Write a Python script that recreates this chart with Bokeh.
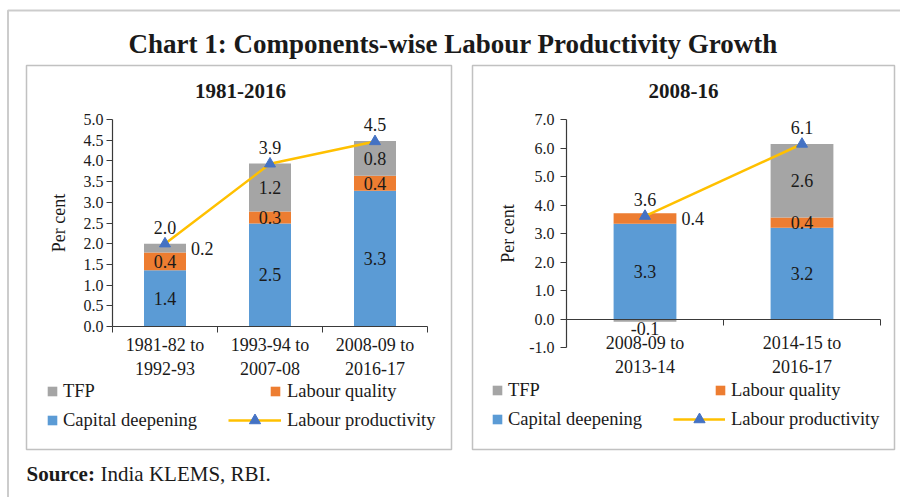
from bokeh.plotting import figure
from bokeh.models import (ColumnDataSource, Range1d, FixedTicker, Label, Legend,
                          LegendItem, LinearAxis, BoxAnnotation, NumeralTickFormatter)
from bokeh.core.properties import value
from bokeh.embed import file_html
from bokeh.resources import INLINE

# ---------------- data ----------------
chart_title = "Chart 1:  Components-wise Labour Productivity Growth"
source_bold = "Source:"
source_text = "India KLEMS, RBI."
y_axis_label = "Per cent"
series_names = ["TFP", "Labour quality", "Capital deepening", "Labour productivity"]

left_title = "1981-2016"
left_categories = ["1981-82 to\n1992-93", "1993-94 to\n2007-08", "2008-09 to\n2016-17"]
left_capital = [1.36, 2.49, 3.28]
left_quality = [0.43, 0.29, 0.36]
left_tfp = [0.21, 1.16, 0.84]
left_productivity = [2.0, 3.93, 4.47]
left_y_ticks = [0.0, 0.5, 1.0, 1.5, 2.0, 2.5, 3.0, 3.5, 4.0, 4.5, 5.0]

right_title = "2008-16"
right_categories = ["2008-09 to\n2013-14", "2014-15 to\n2016-17"]
right_capital = [3.34, 3.20]
right_quality = [0.37, 0.36]
right_tfp = [-0.10, 2.58]
right_productivity = [3.61, 6.14]
right_y_ticks = [-1.0, 0.0, 1.0, 2.0, 3.0, 4.0, 5.0, 6.0, 7.0]

# ---------------- style / layout (page pixels) ----------------
SERIF = "Liberation Serif"
BLUE, ORANGE, GRAY = "#5B9BD5", "#ED7D31", "#A5A5A5"
YELLOW, MARKER = "#FFC000", "#4472C4"
TEXT, AXIS = "#1a1a1a", "#3a3a3a"
BAR_W = 0.4
M = 0                     # canvas origin on the page
W, H = 900, 497           # canvas size
LEG_H = 24                # legend label row height


def sx(px):               # page x -> canvas data x
    return px - M


def sy(py):               # page y -> canvas data y (upwards)
    return H - (py - M)


p = figure(width=W, height=H, output_backend="svg", toolbar_location=None,
           x_range=Range1d(0, W), y_range=Range1d(0, H), min_border=0,
           x_axis_type=None, y_axis_type=None)
p.outline_line_color = None
p.background_fill_color = "white"
p.border_fill_color = "white"

# outer frame (left and top edges; the rest runs off the page)
p.add_layout(BoxAnnotation(left=sx(7.5), top=sy(10), right=sx(W + 40), bottom=sy(H + 40),
                           fill_color=None, line_color="#555", line_width=2))

p.add_layout(Label(x=sx(456), y=sy(43), text=chart_title, text_font=SERIF,
                   text_font_size="27px", text_font_style="bold", text_color=TEXT,
                   text_align="center", text_baseline="alphabetic"))
p.add_layout(Label(x=sx(26), y=sy(473), text=source_bold, text_font=SERIF,
                   text_font_size="21px", text_font_style="bold", text_color=TEXT,
                   text_baseline="alphabetic"))
p.add_layout(Label(x=sx(100), y=sy(473), text=source_text, text_font=SERIF,
                   text_font_size="21px", text_color=TEXT, text_baseline="alphabetic"))


def panel(key, title, cats, capital, quality, tfp, prod, y_ticks, *, box, plot_px,
          right_labels, title_xy, x_standoff, y_standoff, label_standoff, legend_cfg):
    n = len(cats)
    ylo, yhi = y_ticks[0], y_ticks[-1]
    x0p, x1p, y0p, y1p = plot_px           # page px of x=0, x=n, y=ylo, y=yhi
    kx = (x1p - x0p) / n
    ky = (y0p - y1p) / (yhi - ylo)
    xr, yr = key + "x", key + "y"
    p.extra_x_ranges[xr] = Range1d(0 - (x0p - M) / kx, n + (M + W - x1p) / kx)
    p.extra_y_ranges[yr] = Range1d(ylo - (M + H - y0p) / ky, yhi + (y1p - M) / ky)
    rn = dict(x_range_name=xr, y_range_name=yr)

    # panel border
    bx0, by0, bx1, by1 = box
    p.add_layout(BoxAnnotation(left=sx(bx0), right=sx(bx1), top=sy(by0), bottom=sy(by1),
                               fill_color=None, line_color="#333", line_width=1.5))

    xs = [i + 0.5 for i in range(n)]
    q_top = [c + q for c, q in zip(capital, quality)]
    t_bot = [qt if t >= 0 else 0 for qt, t in zip(q_top, tfp)]
    t_top = [b + t for b, t in zip(t_bot, tfp)]
    src = ColumnDataSource(dict(x=xs, cap=capital, q0=capital, q1=q_top, t0=t_bot,
                                t1=t_top, lp=prod, lp_txt=[f"{v:.1f}" for v in prod]))
    r_cap = p.vbar(x="x", bottom=0, top="cap", width=BAR_W, source=src,
                   fill_color=BLUE, line_color=None, **rn)
    r_q = p.vbar(x="x", bottom="q0", top="q1", width=BAR_W, source=src,
                 fill_color=ORANGE, line_color=None, **rn)
    r_t = p.vbar(x="x", bottom="t0", top="t1", width=BAR_W, source=src,
                 fill_color=GRAY, line_color=None, **rn)

    # axes (fixed at the zero lines, limited to the value range)
    xa = LinearAxis(fixed_location=0, bounds=(0, n), **rn)
    xa.ticker = FixedTicker(ticks=xs, minor_ticks=list(range(n + 1)))
    xa.major_label_overrides = {x: c for x, c in zip(xs, cats)}
    xa.major_tick_line_color = None
    xa.major_tick_out = 6
    xa.major_tick_in = 0
    xa.minor_tick_in = 0
    xa.minor_tick_out = 6
    xa.minor_tick_line_color = AXIS
    xa.axis_line_color = AXIS
    xa.axis_line_width = 1.2
    xa.major_label_standoff = x_standoff
    xa.major_label_text_font = SERIF
    xa.major_label_text_font_size = "18px"
    xa.major_label_text_color = TEXT
    p.add_layout(xa, "below")

    ya = LinearAxis(fixed_location=0, bounds=(ylo, yhi), **rn)
    ya.ticker = FixedTicker(ticks=y_ticks, minor_ticks=[])
    ya.formatter = NumeralTickFormatter(format="0.0")
    ya.major_tick_in = 0
    ya.major_tick_out = 6
    ya.major_tick_line_color = AXIS
    ya.axis_line_color = AXIS
    ya.axis_line_width = 1.2
    ya.major_label_standoff = y_standoff
    ya.major_label_text_font = SERIF
    ya.major_label_text_font_size = "16px"
    ya.major_label_text_color = TEXT
    ya.axis_label = y_axis_label
    ya.axis_label_text_font = SERIF
    ya.axis_label_text_font_size = "18px"
    ya.axis_label_text_font_style = "normal"
    ya.axis_label_text_color = TEXT
    ya.axis_label_standoff = label_standoff
    p.add_layout(ya, "left")

    r_line = p.line(x="x", y="lp", source=src, line_color=YELLOW, line_width=2.5, **rn)
    r_mark = p.scatter(x="x", y="lp", source=src, marker="triangle", size=11,
                       fill_color=MARKER, line_color=MARKER, **rn)

    # data labels
    center = dict(x=[], y=[], t=[])
    right = dict(x=[], y=[], t=[])
    below = dict(x=[], y=[], t=[])
    segs = [("cap", capital, [0] * n, capital), ("q", quality, capital, q_top),
            ("tfp", tfp, t_bot, t_top)]
    for k, vals, bots, tops in segs:
        for i, v in enumerate(vals):
            lab = f"{v:.1f}"
            if v < 0:
                below["x"].append(xs[i]); below["y"].append(min(bots[i], tops[i])); below["t"].append(lab)
            elif (k, i) in right_labels:
                right["x"].append(xs[i] + BAR_W / 2); right["y"].append((bots[i] + tops[i]) / 2); right["t"].append(lab)
            else:
                center["x"].append(xs[i]); center["y"].append((bots[i] + tops[i]) / 2); center["t"].append(lab)
    common = dict(text_font=value(SERIF), text_font_size="18px", text_color=TEXT, **rn)
    p.text(x="x", y="y", text="t", source=ColumnDataSource(center),
           text_align="center", text_baseline="middle", **common)
    p.text(x="x", y="y", text="t", source=ColumnDataSource(right), x_offset=5,
           text_align="left", text_baseline="middle", **common)
    p.text(x="x", y="y", text="t", source=ColumnDataSource(below), y_offset=0,
           text_align="center", text_baseline="top", **common)
    p.text(x="x", y="lp", text="lp_txt", source=src, y_offset=-10,
           text_align="center", text_baseline="bottom", **common)

    p.add_layout(Label(x=sx(title_xy[0]), y=sy(title_xy[1]), text=title, text_font=SERIF,
                       text_font_size="21px", text_font_style="bold", text_color=TEXT,
                       text_align="center", text_baseline="middle"))

    rends = {"TFP": [r_t], "Labour quality": [r_q], "Capital deepening": [r_cap],
             "Labour productivity": [r_line, r_mark]}
    for name in series_names:
        gx, gy, gw, gh, so = legend_cfg[name]     # page px: glyph-box left, row centre
        hh = max(gh, LEG_H)
        lg = Legend(items=[LegendItem(label=name, renderers=rends[name])],
                    location=(sx(gx), sy(gy) - hh / 2), orientation="horizontal",
                    glyph_width=gw, glyph_height=gh, label_standoff=so,
                    label_height=LEG_H, padding=0, margin=0, spacing=0,
                    border_line_color=None, background_fill_alpha=0,
                    label_text_font=SERIF, label_text_font_size="18.5px",
                    label_text_color=TEXT)
        p.add_layout(lg, "center")


panel("l", left_title, left_categories, left_capital, left_quality, left_tfp,
      left_productivity, left_y_ticks, box=(26, 65, 451, 449),
      plot_px=(112, 427, 326, 119), right_labels={("tfp", 0)}, title_xy=(240, 90),
      x_standoff=2, y_standoff=3, label_standoff=12,
      legend_cfg={"TFP": (46, 391, 12, 12, 5),
                  "Labour quality": (269, 391, 12, 12, 6),
                  "Capital deepening": (46, 420, 12, 12, 5),
                  "Labour productivity": (228, 420, 53, 28, 6)})

panel("r", right_title, right_categories, right_capital, right_quality, right_tfp,
      right_productivity, right_y_ticks, box=(472, 65, 894, 449),
      plot_px=(566, 880, 347, 119), right_labels={("q", 0)}, title_xy=(683, 90),
      x_standoff=8, y_standoff=6, label_standoff=8,
      legend_cfg={"TFP": (491, 390, 12, 12, 5),
                  "Labour quality": (714, 390, 12, 12, 5),
                  "Capital deepening": (491, 419, 12, 12, 5),
                  "Labour productivity": (673, 419, 52, 28, 6)})

open("out.html", "w").write(file_html(p, INLINE))
